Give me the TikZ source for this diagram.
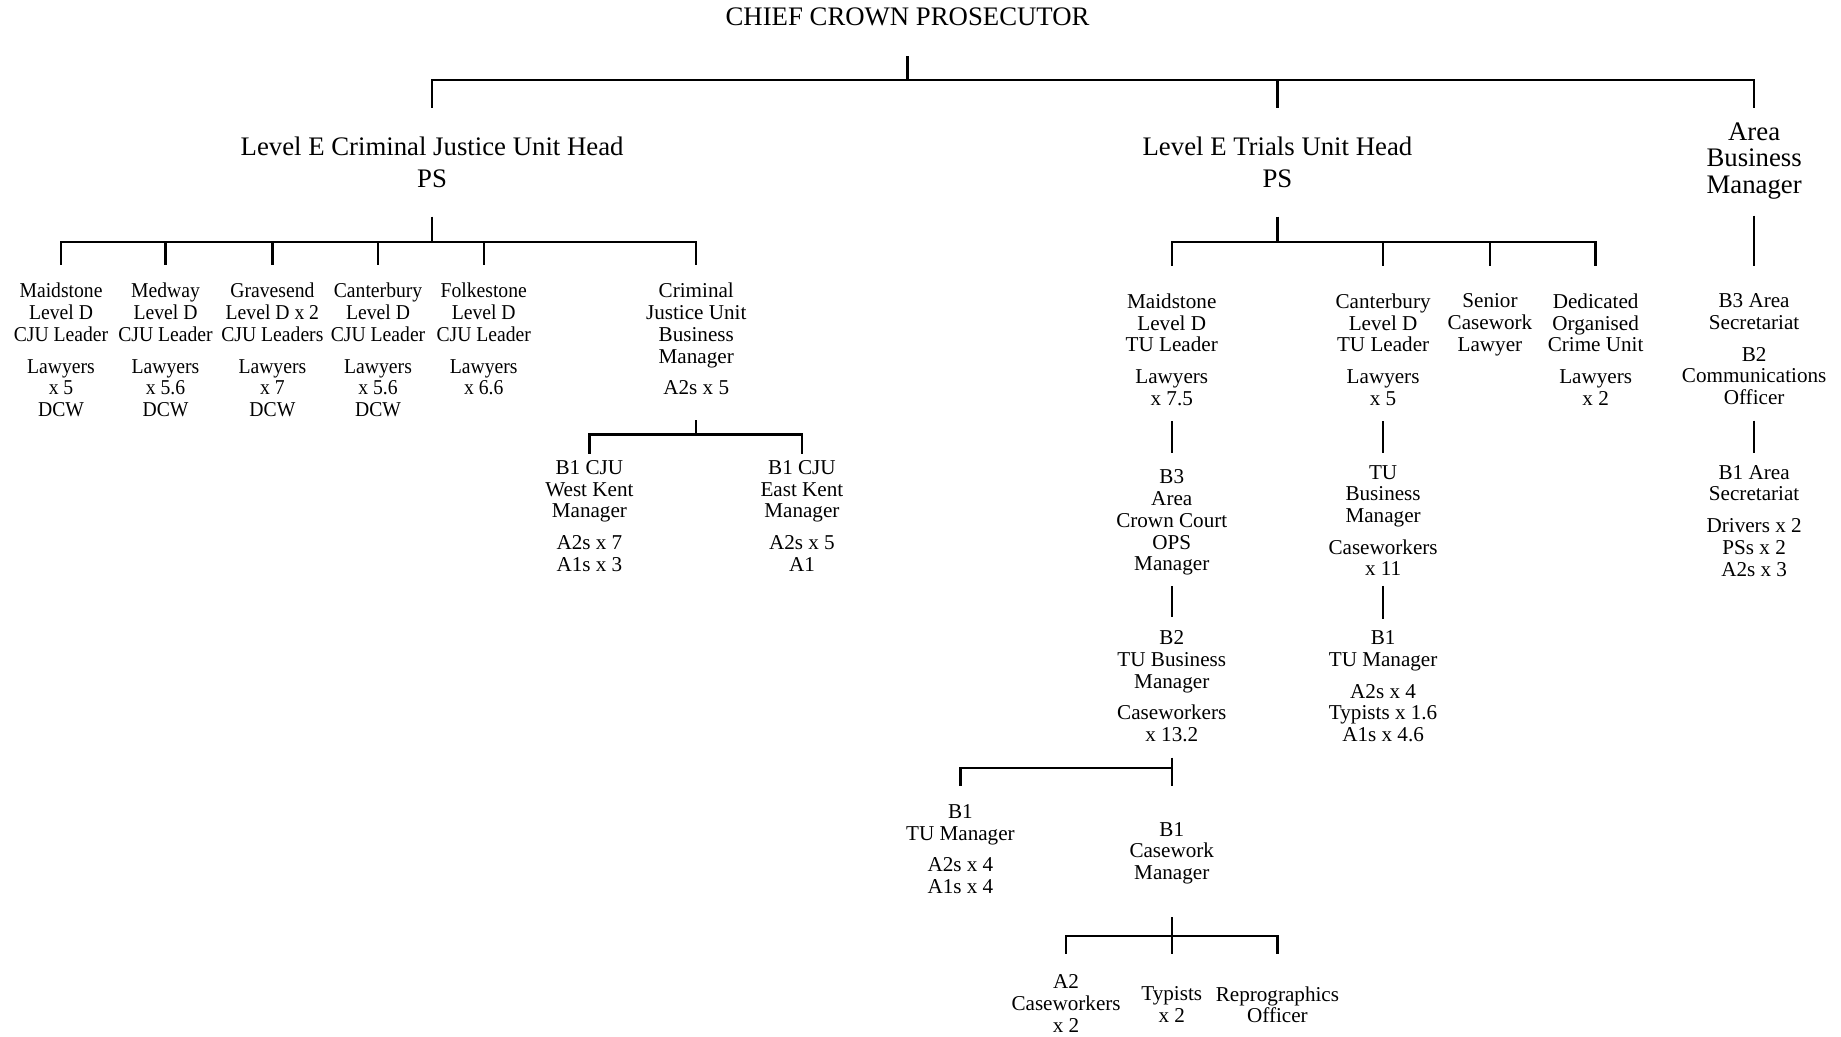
\documentclass[tikz,border=0pt]{standalone}
\usepackage{fontspec}
\setmainfont{Liberation Serif}
\newfontfamily\narrowfont[FakeStretch=0.93]{Liberation Serif}

\begin{document}
\begin{tikzpicture}[x=0.5pt, y=-0.5pt,
  link/.style={line width=1pt},
  post/.style={align=center, inner sep=0pt, anchor=north, font=\fontsize{9}{9.25}\selectfont},
  leader/.style={post, font=\narrowfont\fontsize{9}{9.25}\selectfont},
  head/.style={align=center, inner sep=0pt, anchor=north, font=\fontsize{11.4}{11.25}\selectfont}]
  \useasboundingbox (0,0) rectangle (1568,883);

  % Heads
  \node[head] (ccp) at (773,6.2) {CHIEF CROWN PROSECUTOR};
  \node[head] (cjuhead) at (368,116.2) {Level E Criminal Justice Unit Head\\[2.25pt]PS};
  \node[head] (tuhead) at (1088,116.2) {Level E Trials Unit Head\\[2.25pt]PS};
  \node[head] (abm) at (1494,104.2) {Area\\Business\\Manager};

  % Criminal Justice Unit
  \node[leader] (maidcju) at (52,240.8) {Maidstone\\Level D\\CJU Leader\\[4.25pt]Lawyers\\x 5\\DCW};
  \node[leader] (medcju) at (141,240.8) {Medway\\Level D\\CJU Leader\\[4.25pt]Lawyers\\x 5.6\\DCW};
  \node[leader] (gravcju) at (232,240.8) {Gravesend\\Level D x 2\\CJU Leaders\\[4.25pt]Lawyers\\x 7\\DCW};
  \node[leader] (cantcju) at (322,240.8) {Canterbury\\Level D\\CJU Leader\\[4.25pt]Lawyers\\x 5.6\\DCW};
  \node[leader] (folkcju) at (412,240.8) {Folkestone\\Level D\\CJU Leader\\[4.25pt]Lawyers\\x 6.6};
  \node[post] (cjubm) at (593,240.8) {Criminal\\Justice Unit\\Business\\Manager\\[4.25pt]A2s x 5};
  \node[post] (westkent) at (502,391.8) {B1 CJU\\West Kent\\Manager\\[4.25pt]A2s x 7\\A1s x 3};
  \node[post] (eastkent) at (683,391.8) {B1 CJU\\East Kent\\Manager\\[4.25pt]A2s x 5\\A1};

  % Trials Unit
  \node[post] (maidtu) at (998,249.8) {Maidstone\\Level D\\TU Leader\\[4.25pt]Lawyers\\x 7.5};
  \node[post] (canttu) at (1178,249.8) {Canterbury\\Level D\\TU Leader\\[4.25pt]Lawyers\\x 5};
  \node[post] (seniorcl) at (1269,249.8) {Senior\\Casework\\Lawyer};
  \node[post] (docu) at (1359,249.8) {Dedicated\\Organised\\Crime Unit\\[4.25pt]Lawyers\\x 2};
  \node[post] (opsman) at (998,399.8) {B3\\Area\\Crown Court\\OPS\\Manager};
  \node[post] (tubm) at (998,536.8) {B2\\TU Business\\Manager\\[4.25pt]Caseworkers\\x 13.2};
  \node[post] (tuman) at (818,684.8) {B1\\TU Manager\\[4.25pt]A2s x 4\\A1s x 4};
  \node[post] (cwman) at (998,699.8) {B1\\Casework\\Manager};
  \node[post] (a2cw) at (908,829.8) {A2\\Caseworkers\\x 2};
  \node[post] (typists) at (998,839.8) {Typists\\x 2};
  \node[post] (repro) at (1088,839.8) {Reprographics\\Officer};
  \node[post] (canttubm) at (1178,395.8) {TU\\Business\\Manager\\[4.25pt]Caseworkers\\x 11};
  \node[post] (canttuman) at (1178,536.8) {B1\\TU Manager\\[4.25pt]A2s x 4\\Typists x 1.6\\A1s x 4.6};

  % Area business
  \node[post] (areasec) at (1494,249.8) {B3 Area\\Secretariat\\[4.25pt]B2\\Communications\\Officer};
  \node[post] (areasec1) at (1494,395.8) {B1 Area\\Secretariat\\[4.25pt]Drivers x 2\\PSs x 2\\A2s x 3};

  % Top bar
  \coordinate (ccpbar) at (773,68);
  \draw[link, shorten <=12.75pt] (ccp) -- (ccpbar);
  \draw[link, shorten >=12pt] (ccpbar) -| (cjuhead);
  \draw[link, shorten >=12pt] (ccpbar) -| (tuhead);
  \draw[link, shorten >=6pt] (ccpbar) -| (abm);

  % CJU bars
  \coordinate (cjubar) at (368,206);
  \draw[link, shorten <=12.25pt] (cjuhead) -- (cjubar);
  \foreach \office in {maidcju, medcju, gravcju, cantcju, folkcju, cjubm}
    \draw[link, shorten >=7.5pt] (cjubar) -| (\office);
  \coordinate (bmbar) at (593,370);
  \draw[link, shorten <=10.5pt] (cjubm) -- (bmbar);
  \draw[link, shorten >=2.5pt] (bmbar) -| (westkent);
  \draw[link, shorten >=2.5pt] (bmbar) -| (eastkent);

  % TU bars
  \coordinate (tubar) at (1088,206);
  \draw[link, shorten <=12.25pt] (tuhead) -- (tubar);
  \foreach \office in {maidtu, canttu, seniorcl, docu}
    \draw[link, shorten >=11.5pt] (tubar) -| (\office);
  \draw[link, shorten <=6.5pt, shorten >=7pt] (maidtu) -- (opsman);
  \draw[link, shorten <=4.5pt, shorten >=5.5pt] (opsman) -- (tubm);
  \coordinate (tubmbar) at (998,654);
  \draw[link, shorten <=6.5pt] (tubm) -- (tubmbar);
  \draw[link, shorten >=7.5pt] (tubmbar) -| (tuman);
  \draw[link, shorten >=15pt] (tubmbar) -- (cwman);
  \coordinate (cwbar) at (998,797);
  \draw[link, shorten <=14pt] (cwman) -- (cwbar);
  \draw[link, shorten >=8.5pt] (cwbar) -| (a2cw);
  \draw[link, shorten >=13.5pt] (cwbar) -- (typists);
  \draw[link, shorten >=13.5pt] (cwbar) -| (repro);
  \draw[link, shorten <=6.5pt, shorten >=5pt] (canttu) -- (canttubm);
  \draw[link, shorten <=4pt, shorten >=5pt] (canttubm) -- (canttuman);

  % Area bars
  \draw[link, shorten <=6.8pt, shorten >=11.5pt] (abm) -- (areasec);
  \draw[link, shorten <=6.5pt, shorten >=5pt] (areasec) -- (areasec1);
\end{tikzpicture}
\end{document}
